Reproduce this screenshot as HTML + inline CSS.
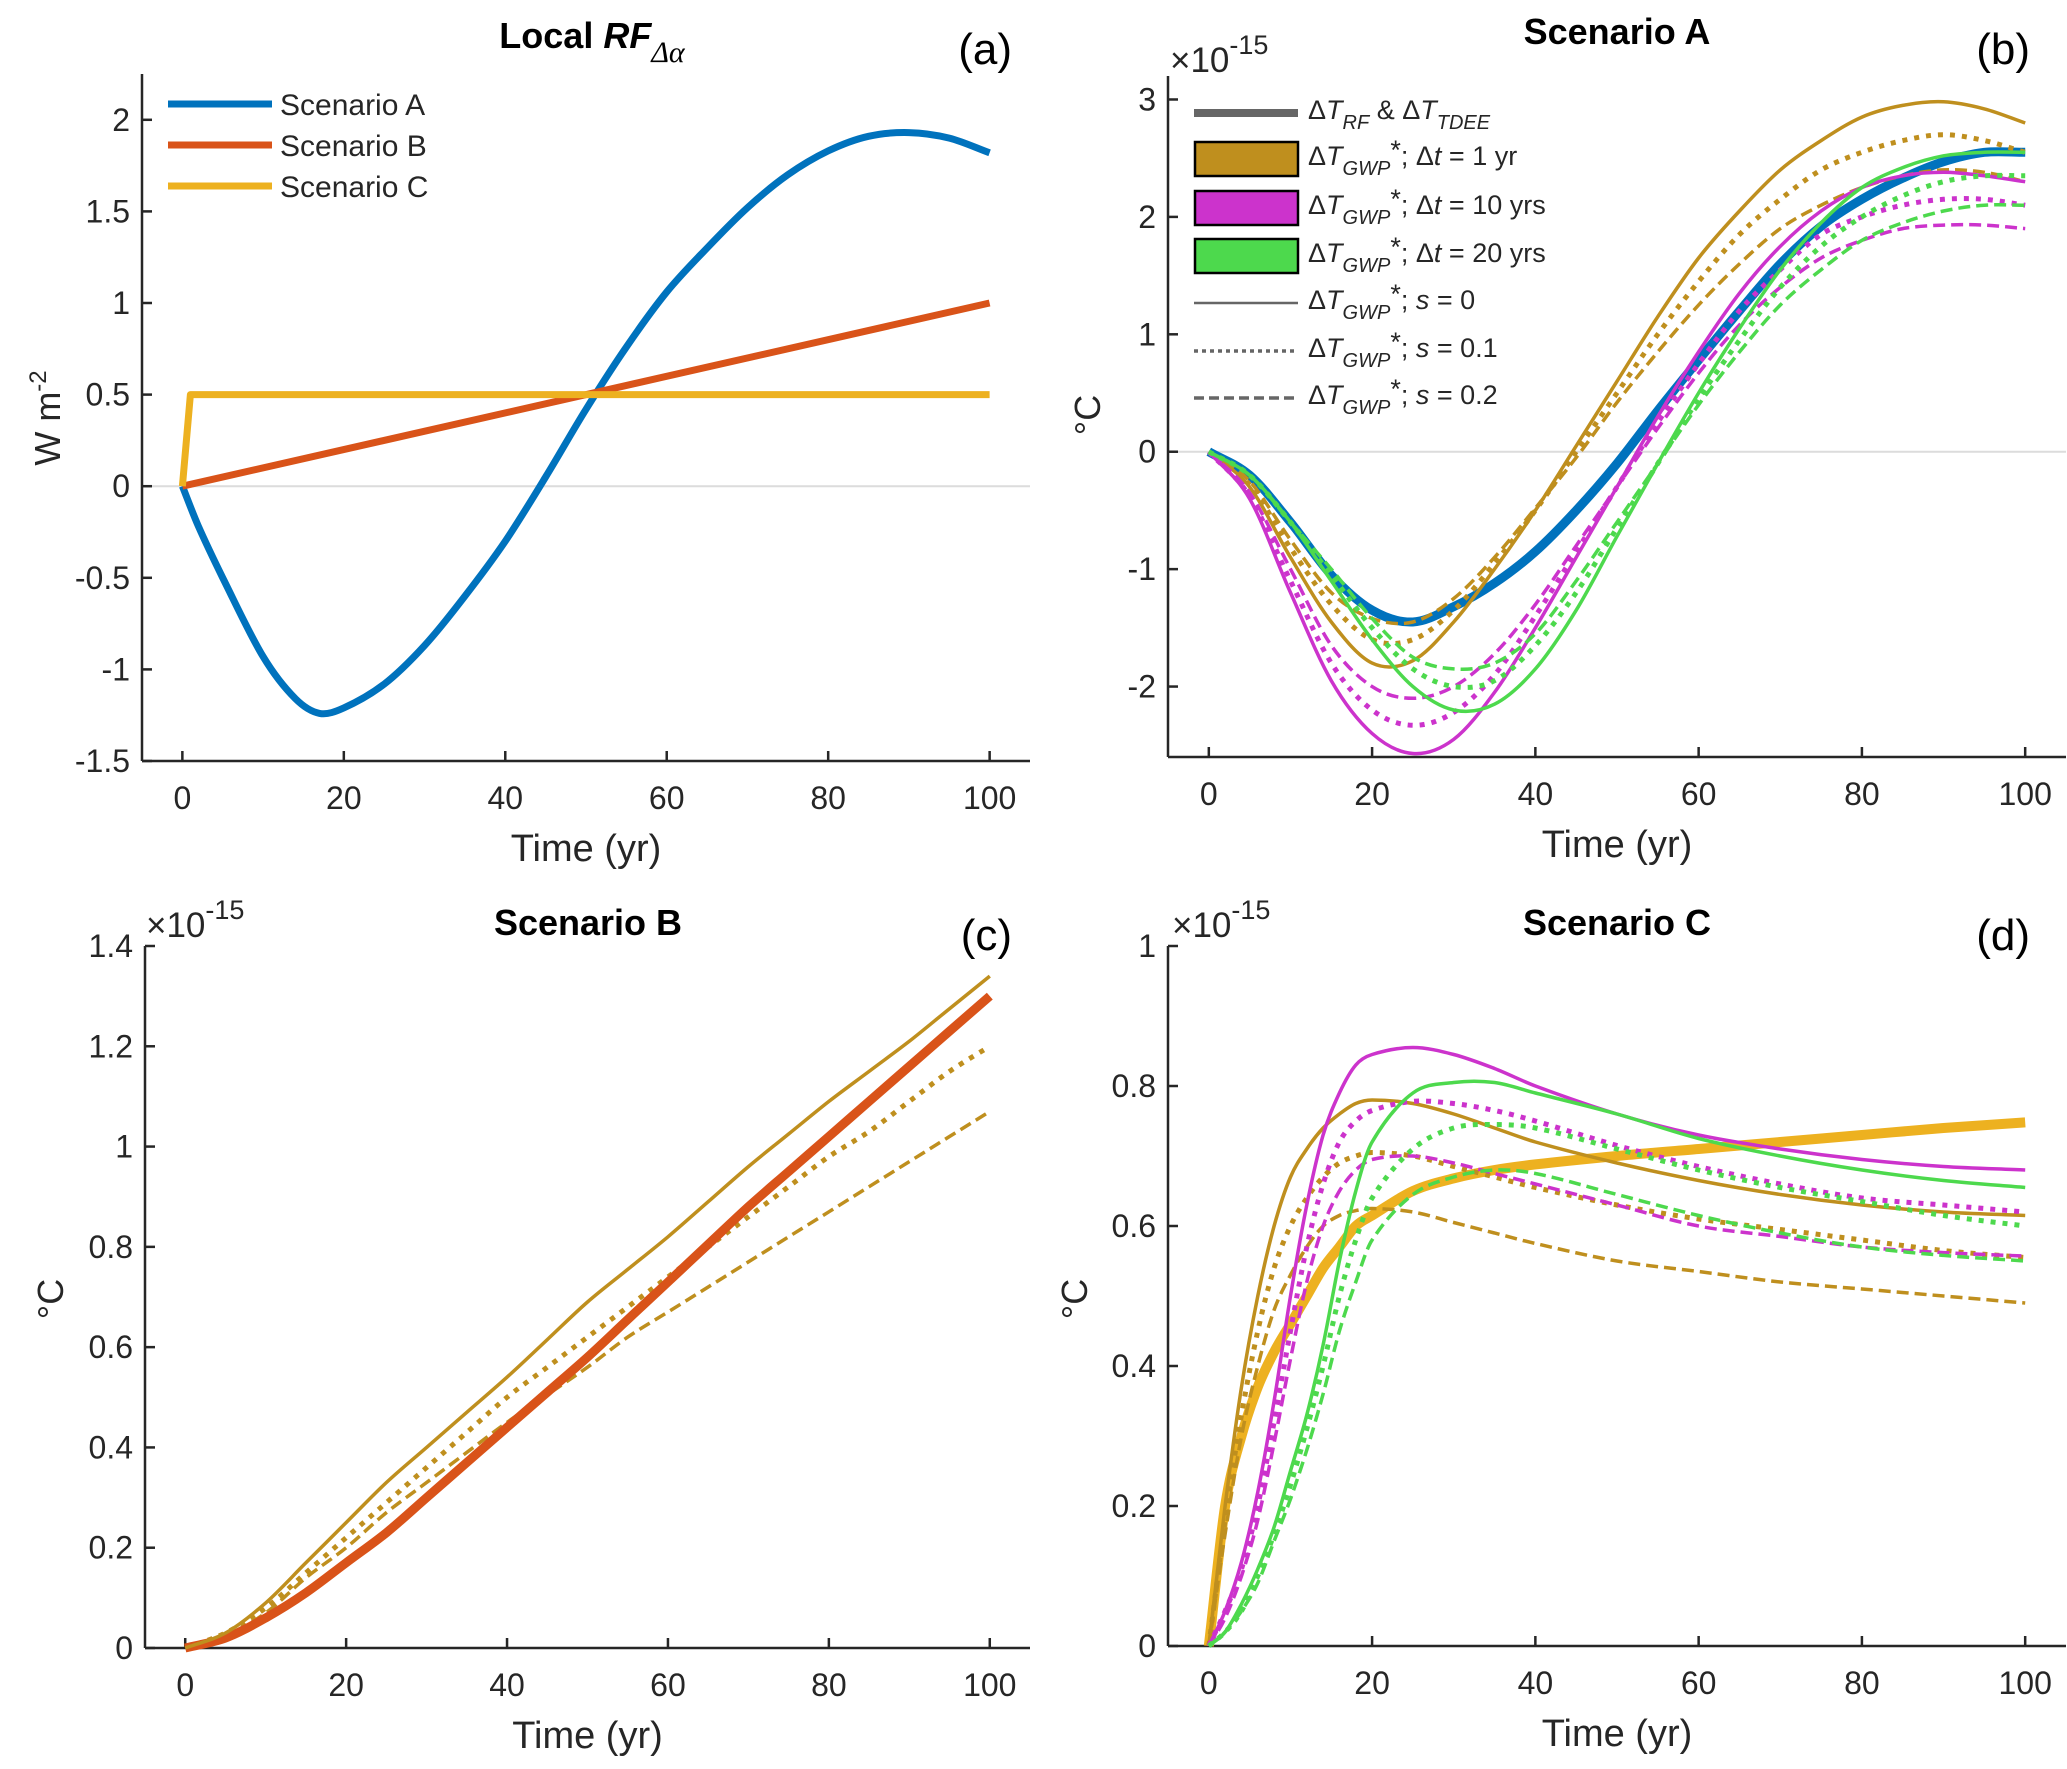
<!DOCTYPE html>
<html><head><meta charset="utf-8">
<style>
html,body{margin:0;padding:0;background:#fff;}
svg{display:block;font-family:"Liberation Sans",Arial,sans-serif;}
</style></head>
<body>
<svg id="fig" width="2067" height="1769" viewBox="0 0 2067 1769" xmlns="http://www.w3.org/2000/svg"></svg>
<script>
// ---------- DATA ----------
const tA = [0,2,5,10,14,17,20,25,30,35,40,45,50,55,60,65,70,75,80,85,90,95,100];
const rfA = [0,-0.22,-0.5,-0.93,-1.16,-1.24,-1.21,-1.08,-0.87,-0.6,-0.3,0.05,0.42,0.76,1.06,1.3,1.52,1.7,1.83,1.91,1.93,1.9,1.82];
const tB = [0,100];
const rfB = [0,1];
const tC = [0,1,100];
const rfC = [0,0.5,0.5];

const tSA = [0,5,10,15,20,25,30,35,40,45,50,55,60,65,70,75,80,85,90,95,100];
const sA_rf = [0,-0.2,-0.6,-1.05,-1.35,-1.45,-1.32,-1.12,-0.85,-0.5,-0.1,0.35,0.78,1.2,1.6,1.92,2.15,2.33,2.47,2.55,2.55];
const sA_g0 = [0,-0.3,-0.9,-1.45,-1.8,-1.78,-1.45,-1.0,-0.5,0.05,0.6,1.15,1.65,2.05,2.4,2.65,2.85,2.95,2.98,2.92,2.8];
const sA_g1 = [0,-0.28,-0.82,-1.3,-1.6,-1.6,-1.35,-0.95,-0.5,0.0,0.5,1.0,1.45,1.85,2.15,2.4,2.55,2.65,2.7,2.65,2.55];
const sA_g2 = [0,-0.25,-0.75,-1.2,-1.42,-1.45,-1.25,-0.9,-0.48,-0.05,0.42,0.85,1.25,1.6,1.9,2.1,2.25,2.35,2.4,2.38,2.3];
const sA_m0 = [0,-0.4,-1.2,-1.95,-2.4,-2.57,-2.45,-2.05,-1.5,-0.9,-0.3,0.3,0.85,1.35,1.75,2.05,2.25,2.35,2.38,2.35,2.3];
const sA_m1 = [0,-0.38,-1.1,-1.8,-2.2,-2.33,-2.22,-1.9,-1.4,-0.85,-0.3,0.25,0.75,1.2,1.55,1.85,2.0,2.1,2.15,2.15,2.1];
const sA_m2 = [0,-0.35,-1.0,-1.65,-2.0,-2.1,-2.0,-1.72,-1.3,-0.8,-0.3,0.2,0.67,1.08,1.4,1.65,1.8,1.9,1.93,1.93,1.9];
const sA_n0 = [0,-0.2,-0.6,-1.1,-1.6,-2.0,-2.2,-2.15,-1.85,-1.35,-0.72,-0.1,0.5,1.05,1.55,1.95,2.25,2.42,2.52,2.55,2.55];
const sA_n1 = [0,-0.2,-0.6,-1.05,-1.5,-1.85,-2.0,-1.95,-1.65,-1.2,-0.65,-0.1,0.45,0.95,1.4,1.75,2.0,2.18,2.3,2.35,2.35];
const sA_n2 = [0,-0.2,-0.6,-1.0,-1.42,-1.75,-1.85,-1.8,-1.55,-1.1,-0.6,-0.1,0.4,0.85,1.25,1.55,1.8,1.95,2.05,2.1,2.1];

const tSB = [0,5,10,15,20,25,30,35,40,45,50,55,60,65,70,75,80,85,90,95,100];
const sB_rf = [0,0.02,0.06,0.11,0.17,0.23,0.3,0.37,0.44,0.51,0.58,0.655,0.73,0.805,0.88,0.95,1.02,1.09,1.16,1.23,1.3];
const sB_g0 = [0,0.03,0.09,0.17,0.25,0.33,0.4,0.47,0.54,0.615,0.69,0.755,0.82,0.89,0.96,1.025,1.09,1.15,1.21,1.275,1.34];
const sB_g1 = [0,0.03,0.08,0.15,0.22,0.29,0.36,0.43,0.5,0.56,0.62,0.68,0.74,0.8,0.86,0.92,0.98,1.03,1.09,1.15,1.2];
const sB_g2 = [0,0.025,0.07,0.14,0.2,0.27,0.33,0.39,0.45,0.505,0.56,0.62,0.67,0.72,0.77,0.82,0.87,0.92,0.97,1.02,1.07];

const tSC = [0,2,4,6,8,10,12,14,16,18,20,25,30,35,40,50,60,70,80,90,100];
const sC_rf = [0,0.2,0.3,0.37,0.42,0.46,0.5,0.54,0.57,0.6,0.615,0.65,0.668,0.68,0.688,0.70,0.71,0.72,0.73,0.74,0.748];
const sC_g0 = [0,0.2,0.37,0.5,0.6,0.67,0.71,0.74,0.76,0.775,0.78,0.775,0.76,0.74,0.72,0.69,0.665,0.645,0.63,0.62,0.615];
const sC_g1 = [0,0.18,0.33,0.45,0.54,0.6,0.64,0.67,0.69,0.7,0.705,0.7,0.685,0.67,0.655,0.63,0.61,0.595,0.58,0.565,0.555];
const sC_g2 = [0,0.16,0.3,0.4,0.48,0.53,0.57,0.6,0.615,0.622,0.625,0.62,0.605,0.59,0.575,0.55,0.535,0.52,0.51,0.5,0.49];
const sC_m0 = [0,0.05,0.12,0.22,0.35,0.5,0.63,0.73,0.79,0.83,0.845,0.855,0.845,0.825,0.8,0.76,0.73,0.71,0.695,0.685,0.68];
const sC_m1 = [0,0.05,0.11,0.2,0.32,0.45,0.57,0.66,0.72,0.75,0.765,0.778,0.775,0.765,0.75,0.715,0.685,0.66,0.64,0.63,0.62];
const sC_m2 = [0,0.04,0.1,0.18,0.29,0.41,0.52,0.6,0.65,0.68,0.695,0.7,0.69,0.675,0.66,0.63,0.6,0.585,0.57,0.562,0.557];
const sC_n0 = [0,0.02,0.06,0.11,0.17,0.25,0.33,0.43,0.55,0.65,0.72,0.79,0.805,0.805,0.79,0.76,0.725,0.7,0.68,0.665,0.655];
const sC_n1 = [0,0.02,0.05,0.1,0.16,0.23,0.31,0.4,0.5,0.58,0.64,0.71,0.74,0.745,0.74,0.71,0.68,0.655,0.635,0.615,0.6];
const sC_n2 = [0,0.02,0.05,0.09,0.15,0.21,0.28,0.36,0.45,0.52,0.58,0.645,0.67,0.68,0.675,0.645,0.615,0.59,0.57,0.558,0.55];

const xTicks = [0,20,40,60,80,100];
const yTicksA = [-1.5,-1,-0.5,0,0.5,1,1.5,2];
const yTickLabelsA = ["-1.5","-1","-0.5","0","0.5","1","1.5","2"];
const yTicksB = [-2,-1,0,1,2,3];
const yTicksC = [0,0.2,0.4,0.6,0.8,1,1.2,1.4];
const yTickLabelsC = ["0","0.2","0.4","0.6","0.8","1","1.2","1.4"];
const yTicksD = [0,0.2,0.4,0.6,0.8,1];
const yTickLabelsD = ["0","0.2","0.4","0.6","0.8","1"];

// ---------- DRAW ----------
const NS = "http://www.w3.org/2000/svg";
const svg = document.getElementById('fig');
function mk(tag, attrs, parent){
  const e = document.createElementNS(NS, tag);
  for (const k in attrs) e.setAttribute(k, attrs[k]);
  (parent||svg).appendChild(e);
  return e;
}
const C = {blue:'#0072BD', orange:'#D95319', yellow:'#EDB120', gold:'#BF8F1E', mag:'#CC33CC', green:'#4DD94D'};
const DOT = '5,7', DASH = '12,6';

function makeAxes(p){
  const g = mk('g', {});
  
  
  const sx = v => p.x0 + (v - (-5)) / 110 * (p.x1 - p.x0);
  const sy = v => p.yb - (v - p.ymin) / (p.ymax - p.ymin) * (p.yb - p.yt);
  p.sx = sx; p.sy = sy; p.g = g;
  if (p.zero) {
    const z = mk('line', {x1:p.x0, x2:p.x1, y1:sy(0), y2:sy(0), stroke:'#dcdcdc', 'stroke-width':2}, g);
    
    
  }
  const xa = mk('g', {}, g);
  
  
  mk('line', {x1:p.x0, x2:p.x1, y1:p.yb, y2:p.yb, stroke:'#262626', 'stroke-width':2.5}, xa);
  xTicks.forEach(v => {
    mk('line', {x1:sx(v), x2:sx(v), y1:p.yb, y2:p.yb-10, stroke:'#262626', 'stroke-width':2.5}, xa);
    const t = mk('text', {x:sx(v), y:p.yb+48, 'text-anchor':'middle', 'font-size':32, fill:'#262626'}, xa);
    
    
    t.textContent = v;
  });
  const xl = mk('text', {x:sx(50), y:p.yb+100, 'text-anchor':'middle', 'font-size':38, fill:'#262626'}, g);
  
  
  xl.textContent = 'Time (yr)';
  const ya = mk('g', {}, g);
  
  
  mk('line', {x1:p.x0, x2:p.x0, y1:p.yb, y2:p.yt, stroke:'#262626', 'stroke-width':2.5}, ya);
  p.yticks.forEach((v,i) => {
    mk('line', {x1:p.x0, x2:p.x0+10, y1:sy(v), y2:sy(v), stroke:'#262626', 'stroke-width':2.5}, ya);
    const t = mk('text', {x:p.x0-12, y:sy(v)+11, 'text-anchor':'end', 'font-size':32, fill:'#262626'}, ya);
    
    
    t.textContent = p.ylabels ? p.ylabels[i] : v;
  });
  return p;
}
function smooth(pts){
  let d = 'M' + pts[0][0].toFixed(1) + ',' + pts[0][1].toFixed(1);
  for (let i = 0; i < pts.length - 1; i++) {
    const p0 = pts[Math.max(i-1,0)], p1 = pts[i], p2 = pts[i+1], p3 = pts[Math.min(i+2, pts.length-1)];
    const h = p2[0]-p1[0];
    const s1 = (p2[1]-p0[1])/((p2[0]-p0[0])||1), s2 = (p3[1]-p1[1])/((p3[0]-p1[0])||1);
    const c1x = p1[0] + h/3, c1y = p1[1] + s1*h/3;
    const c2x = p2[0] - h/3, c2y = p2[1] - s2*h/3;
    d += ' C' + c1x.toFixed(1) + ',' + c1y.toFixed(1) + ' ' + c2x.toFixed(1) + ',' + c2y.toFixed(1) + ' ' + p2[0].toFixed(1) + ',' + p2[1].toFixed(1);
  }
  return d;
}
function series(p, xs, ys, color, w, dash, name, straight){
  const pts = xs.map((x,i) => [p.sx(x), p.sy(ys[i])]);
  const d = straight ? 'M' + pts.map(q => q[0].toFixed(1)+','+q[1].toFixed(1)).join(' L') : smooth(pts);
  const e = mk('path', {d:d, fill:'none', stroke:color, 'stroke-width':w, 'stroke-dasharray':dash||'none', 'stroke-linejoin':'round'}, p.g);
  
  
}
function txt(x, y, str, size, attrs, name){
  const t = mk('text', Object.assign({x:x, y:y, 'font-size':size, fill:'#000'}, attrs||{}));
  
  
  t.innerHTML = str;
  return t;
}

// Panel a
const pa = makeAxes({name:'panel-a', x0:142, x1:1030, yt:74, yb:761, ymin:-1.5, ymax:2.25, yticks:yTicksA, ylabels:yTickLabelsA, zero:true});
series(pa, tA, rfA, C.blue, 7, null, 'line-scenario-a');
series(pa, tB, rfB, C.orange, 7, null, 'line-scenario-b', true);
series(pa, tC, rfC, C.yellow, 7, null, 'line-scenario-c', true);
[['Scenario A',C.blue,104],['Scenario B',C.orange,145],['Scenario C',C.yellow,186]].forEach(r => {
  const l = mk('line', {x1:168, x2:272, y1:r[2], y2:r[2], stroke:r[1], 'stroke-width':7});
  
  
  txt(280, r[2]+11, r[0], 30, {fill:'#262626'}, 'legend-entry');
});
txt(592, 48, 'Local <tspan font-style="italic">RF</tspan><tspan font-size="30" dy="14" font-family="Liberation Serif, serif" font-style="italic" font-weight="normal">Δα</tspan>', 36, {'text-anchor':'middle','font-weight':'bold'}, 'title-panel-a');
txt(1012, 64, '(a)', 44, {'text-anchor':'end'}, 'panel-label-a');
txt(60, 418, 'W m<tspan dy="-14" font-size="24">-2</tspan>', 36, {'text-anchor':'middle', transform:'rotate(-90 60 418)', fill:'#262626'}, 'y-axis-title-a');

// Panel b
const pb = makeAxes({name:'panel-b', x0:1168, x1:2066, yt:76, yb:757, ymin:-2.6, ymax:3.2, yticks:yTicksB, zero:true});
series(pb, tSA, sA_rf, C.blue, 9, null, 'line-a-rf');
series(pb, tSA, sA_g2, C.gold, 3.5, DASH, 'line-a-gold-s02');
series(pb, tSA, sA_g1, C.gold, 5, DOT, 'line-a-gold-s01');
series(pb, tSA, sA_g0, C.gold, 3.5, null, 'line-a-gold-s0');
series(pb, tSA, sA_m2, C.mag, 3.5, DASH, 'line-a-mag-s02');
series(pb, tSA, sA_m1, C.mag, 5, DOT, 'line-a-mag-s01');
series(pb, tSA, sA_m0, C.mag, 3.5, null, 'line-a-mag-s0');
series(pb, tSA, sA_n2, C.green, 3.5, DASH, 'line-a-green-s02');
series(pb, tSA, sA_n1, C.green, 5, DOT, 'line-a-green-s01');
series(pb, tSA, sA_n0, C.green, 3.5, null, 'line-a-green-s0');
txt(1617, 44, 'Scenario A', 36, {'text-anchor':'middle','font-weight':'bold'}, 'title-panel-b');
txt(2030, 64, '(b)', 44, {'text-anchor':'end'}, 'panel-label-b');
txt(1170, 72, '×10<tspan dy="-18" font-size="27">-15</tspan>', 35, {fill:'#262626'}, 'y-exponent-b');
txt(1100, 415, '°C', 36, {'text-anchor':'middle', transform:'rotate(-90 1100 415)', fill:'#262626'}, 'y-axis-title-b');
// legend b
const GWP = 'Δ<tspan font-style="italic">T</tspan><tspan font-style="italic" font-size="20" dy="10">GWP</tspan><tspan dy="-16">*</tspan><tspan dy="6">; </tspan>';
const legB = [
  ['line', '#666', 8, null, 'Δ<tspan font-style="italic">T</tspan><tspan font-style="italic" font-size="20" dy="10">RF</tspan><tspan dy="-10"> &amp; Δ</tspan><tspan font-style="italic">T</tspan><tspan font-style="italic" font-size="20" dy="10">TDEE</tspan>', 113],
  ['rect', C.gold, 0, null, GWP + 'Δ<tspan font-style="italic">t</tspan> = 1 yr', 159],
  ['rect', C.mag, 0, null, GWP + 'Δ<tspan font-style="italic">t</tspan> = 10 yrs', 208],
  ['rect', C.green, 0, null, GWP + 'Δ<tspan font-style="italic">t</tspan> = 20 yrs', 256],
  ['line', '#666', 2.5, null, GWP + '<tspan font-style="italic">s</tspan> = 0', 303],
  ['line', '#666', 3.5, '4,4', GWP + '<tspan font-style="italic">s</tspan> = 0.1', 351],
  ['line', '#666', 3.5, '10,5', GWP + '<tspan font-style="italic">s</tspan> = 0.2', 398]
];
legB.forEach(r => {
  let s;
  if (r[0] === 'rect') s = mk('rect', {x:1195, y:r[5]-17, width:103, height:34, fill:r[1], stroke:'#000', 'stroke-width':2.5});
  else s = mk('line', {x1:1194, x2:1298, y1:r[5], y2:r[5], stroke:r[1], 'stroke-width':r[2], 'stroke-dasharray':r[3]||'none'});
  
  
  txt(1308, r[5]+6, r[4], 27, {fill:'#262626'}, 'legend-entry');
});

// Panel c
const pc = makeAxes({name:'panel-c', x0:145, x1:1030, yt:946, yb:1648, ymin:0, ymax:1.4, yticks:yTicksC, ylabels:yTickLabelsC});
series(pc, tSB, sB_g2, C.gold, 3.5, DASH, 'line-b-gold-s02');
series(pc, tSB, sB_g1, C.gold, 5, DOT, 'line-b-gold-s01');
series(pc, tSB, sB_rf, C.orange, 9, null, 'line-b-rf');
series(pc, tSB, sB_g0, C.gold, 3.5, null, 'line-b-gold-s0');
txt(588, 935, 'Scenario B', 36, {'text-anchor':'middle','font-weight':'bold'}, 'title-panel-c');
txt(1012, 950, '(c)', 44, {'text-anchor':'end'}, 'panel-label-c');
txt(146, 937, '×10<tspan dy="-18" font-size="27">-15</tspan>', 35, {fill:'#262626'}, 'y-exponent-c');
txt(63, 1299, '°C', 36, {'text-anchor':'middle', transform:'rotate(-90 63 1299)', fill:'#262626'}, 'y-axis-title-c');

// Panel d
const pd = makeAxes({name:'panel-d', x0:1168, x1:2066, yt:946, yb:1646, ymin:0, ymax:1, yticks:yTicksD, ylabels:yTickLabelsD});
series(pd, tSC, sC_rf, C.yellow, 10, null, 'line-c-rf');
series(pd, tSC, sC_g2, C.gold, 3.5, DASH, 'line-c-gold-s02');
series(pd, tSC, sC_g1, C.gold, 5, DOT, 'line-c-gold-s01');
series(pd, tSC, sC_g0, C.gold, 3.5, null, 'line-c-gold-s0');
series(pd, tSC, sC_m2, C.mag, 3.5, DASH, 'line-c-mag-s02');
series(pd, tSC, sC_m1, C.mag, 5, DOT, 'line-c-mag-s01');
series(pd, tSC, sC_m0, C.mag, 3.5, null, 'line-c-mag-s0');
series(pd, tSC, sC_n2, C.green, 3.5, DASH, 'line-c-green-s02');
series(pd, tSC, sC_n1, C.green, 5, DOT, 'line-c-green-s01');
series(pd, tSC, sC_n0, C.green, 3.5, null, 'line-c-green-s0');
txt(1617, 935, 'Scenario C', 36, {'text-anchor':'middle','font-weight':'bold'}, 'title-panel-d');
txt(2030, 950, '(d)', 44, {'text-anchor':'end'}, 'panel-label-d');
txt(1172, 937, '×10<tspan dy="-18" font-size="27">-15</tspan>', 35, {fill:'#262626'}, 'y-exponent-d');
txt(1087, 1299, '°C', 36, {'text-anchor':'middle', transform:'rotate(-90 1087 1299)', fill:'#262626'}, 'y-axis-title-d');
</script>
</body></html>
